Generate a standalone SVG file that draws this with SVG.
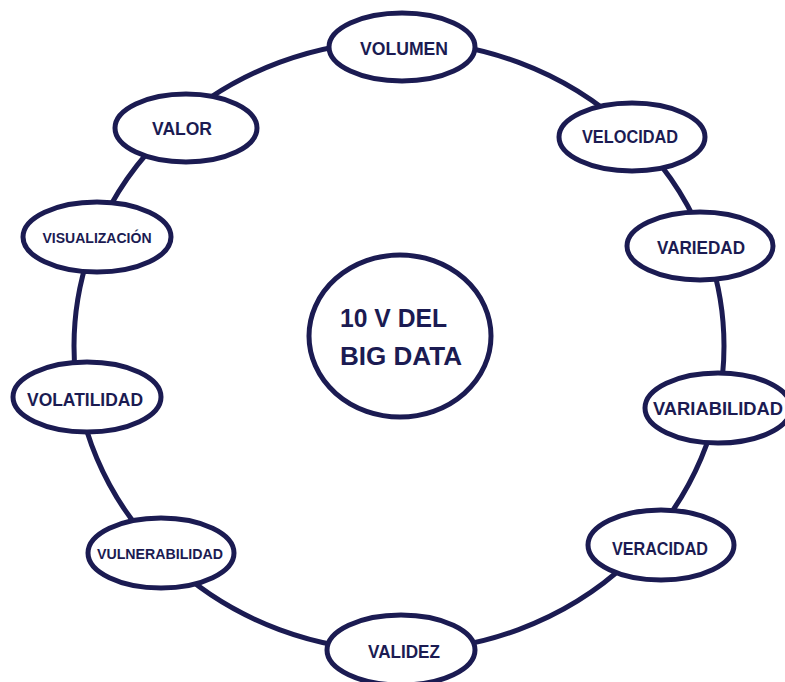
<svg xmlns="http://www.w3.org/2000/svg" width="785" height="682" viewBox="0 0 785 682">
  <style>
    .ring { fill: none; stroke: #1b1b52; stroke-width: 5; }
    .node ellipse { fill: #ffffff; stroke: #1b1b52; stroke-width: 5; }
    .lbl { font-family: "Liberation Sans", Arial, sans-serif; font-weight: bold; fill: #1b1b52; text-anchor: middle; font-size: 18px; }
    .sm { font-size: 14px; }
    .hub { font-family: "Liberation Sans", Arial, sans-serif; font-weight: bold; fill: #1b1b52; font-size: 25px; }
  </style>
  <rect width="785" height="682" fill="#ffffff"/>

  <!-- ring that links all the V's -->
  <g id="connectors">
    <ellipse class="ring" cx="399" cy="346" rx="325" ry="305"/>
  </g>

  <g id="center" class="node">
    <ellipse cx="400" cy="336" rx="91" ry="81"/>
    <text class="hub" x="340" y="327" textLength="107" lengthAdjust="spacingAndGlyphs">10 V DEL</text>
    <text class="hub" x="340" y="365" textLength="122" lengthAdjust="spacingAndGlyphs">BIG DATA</text>
  </g>

  <g id="volumen" class="node">
    <ellipse cx="402" cy="47" rx="73" ry="34"/>
    <text class="lbl" x="404" y="55" textLength="88" lengthAdjust="spacingAndGlyphs">VOLUMEN</text>
  </g>

  <g id="velocidad" class="node">
    <ellipse cx="632" cy="137" rx="73" ry="34"/>
    <text class="lbl" x="630" y="143" textLength="96" lengthAdjust="spacingAndGlyphs">VELOCIDAD</text>
  </g>

  <g id="variedad" class="node">
    <ellipse cx="700" cy="246" rx="73" ry="34"/>
    <text class="lbl" x="701" y="254" textLength="88" lengthAdjust="spacingAndGlyphs">VARIEDAD</text>
  </g>

  <g id="variabilidad" class="node">
    <ellipse cx="718" cy="408" rx="73" ry="35"/>
    <text class="lbl" x="718" y="415" textLength="130" lengthAdjust="spacingAndGlyphs">VARIABILIDAD</text>
  </g>

  <g id="veracidad" class="node">
    <ellipse cx="661" cy="545" rx="73" ry="35"/>
    <text class="lbl" x="660" y="555" textLength="96" lengthAdjust="spacingAndGlyphs">VERACIDAD</text>
  </g>

  <g id="validez" class="node">
    <ellipse cx="401" cy="650" rx="74" ry="35"/>
    <text class="lbl" x="404" y="658" textLength="72" lengthAdjust="spacingAndGlyphs">VALIDEZ</text>
  </g>

  <g id="vulnerabilidad" class="node">
    <ellipse cx="161" cy="553" rx="73" ry="35"/>
    <text class="lbl sm" x="160" y="559" textLength="126" lengthAdjust="spacingAndGlyphs">VULNERABILIDAD</text>
  </g>

  <g id="volatilidad" class="node">
    <ellipse cx="87" cy="397" rx="74" ry="35"/>
    <text class="lbl" x="85" y="406" textLength="116" lengthAdjust="spacingAndGlyphs">VOLATILIDAD</text>
  </g>

  <g id="visualizacion" class="node">
    <ellipse cx="97" cy="237" rx="74" ry="35"/>
    <text class="lbl sm" x="97" y="243" textLength="109" lengthAdjust="spacingAndGlyphs">VISUALIZACIÓN</text>
  </g>

  <g id="valor" class="node">
    <ellipse cx="186" cy="128" rx="71" ry="34"/>
    <text class="lbl" x="182" y="135" textLength="60" lengthAdjust="spacingAndGlyphs">VALOR</text>
  </g>
</svg>
